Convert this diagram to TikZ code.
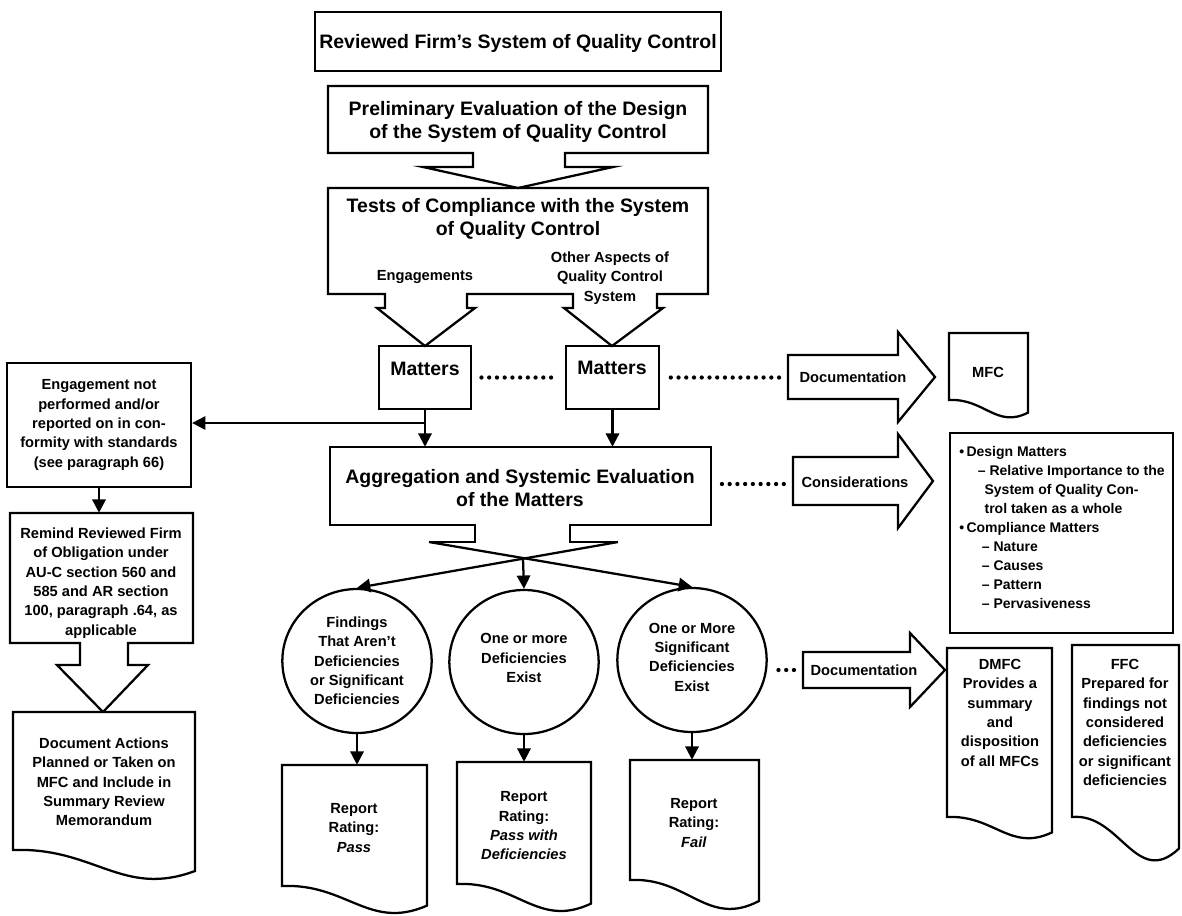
\documentclass[tikz,border=0pt]{standalone}
\usepackage{fontspec}
\setmainfont{Liberation Sans}
\usetikzlibrary{arrows.meta,shapes.geometric,fit}
% document shape: name, L, T, R, B(left bottom), depth
\newcommand{\docpath}[6]{%
  \draw[ln,fill=white] (#2,#3) -- (#4,#3) -- (#4,{#5+0.7*#6})
     .. controls ({#2+0.6*(#4-#2)},{#5+1.6*#6}) and ({#2+0.45*(#4-#2)},{#5-0.1*#6}) .. (#2,#5) -- cycle;
  \node[inner sep=0pt,fit={(#2,#3)(#4,#5)}] (#1) {};
}
\begin{document}
\begin{tikzpicture}[x=0.75pt,y=-0.75pt,
  ln/.style={line width=1.7pt},
  hd/.style={font=\fontsize{14.6}{17}\selectfont\bfseries,align=center,inner sep=0pt},
  sm/.style={font=\fontsize{11}{14.5}\selectfont\bfseries,align=center,inner sep=0pt},
  arr/.style={ln,-{Triangle[length=10pt,width=10pt]}},
  dots/.style={line width=3.2pt,line cap=round,dash pattern=on 0pt off 5.8pt},
  circ/.style={draw,ln,ellipse,minimum width=112pt,minimum height=108pt,inner sep=0pt},
  area/.style={inner sep=0pt}]
\useasboundingbox (0,0) rectangle (1182,915);

% ---- top column
\node[draw,ln,area,fit={(315,12)(721,71)}] (b1) {};
\node[hd] (b1t) at (518,43) {Reviewed Firm's System of Quality Control};

\draw[ln] (328,86) -- (708,86) -- (708,153) -- (565,153) -- (565,167) -- (613,167) -- (518,188)
  -- (423,167) -- (473,167) -- (473,153) -- (328,153) -- cycle;
\node[area,fit={(328,86)(708,153)}] (b2) {};
\node[hd] (b2t) at (518,122) {Preliminary Evaluation of the Design\\of the System of Quality Control};

\draw[ln] (328,188) -- (708,188) -- (708,294) -- (657,294) -- (657,308) -- (663,308) -- (612,346)
  -- (564,308) -- (573,308) -- (573,294) -- (467,294) -- (467,308) -- (475,308) -- (425,346)
  -- (377,308) -- (385,308) -- (385,294) -- (328,294) -- cycle;
\node[area,fit={(328,188)(708,294)}] (b3) {};
\node[hd] (b3t) at (518,219) {Tests of Compliance with the System\\of Quality Control};
\node[sm] (eng) at (425,277) {Engagements};
\node[sm] (oth) at (610,278) {Other Aspects of\\Quality Control\\System};

% ---- matters
\node[draw,ln,area,fit={(379,346)(471,409)}] (m1) {};
\node[hd] (m1t) at (425,369) {Matters};
\node[draw,ln,area,fit={(566,346)(659,409)}] (m2) {};
\node[hd] (m2t) at (612,368) {Matters};
\draw[dots,shorten <=7pt,shorten >=5pt] (m1.east) -- (m2.west);

% ---- top documentation arrow and MFC
\draw[ln,fill=white] (788,355) -- (898,355) -- (898,332) -- (935,377) -- (898,422) -- (898,399) -- (788,399) -- cycle;
\node[area,fit={(788,355)(898,399)}] (doca) {};
\node[sm] (docat) at (853,377) {Documentation};
\draw[dots,shorten <=8pt,shorten >=5pt] (m2.east) -- (m2.east -| doca.west);
\docpath{mfc}{949}{333}{1028}{400}{18}
\node[sm] (mfct) at (988,372) {MFC};

% ---- left column
\node[draw,ln,area,fit={(7,363)(191,487)}] (l1) {};
\node[sm] (l1t) at (99,425) {Engagement not\\performed and/or\\reported on in con-\\formity with standards\\(see paragraph 66)};
\draw[ln] (10,513) -- (193,513) -- (193,643) -- (128,643) -- (128,665) -- (148,665) -- (103,712)
  -- (57,665) -- (80,665) -- (80,643) -- (10,643) -- cycle;
\node[area,fit={(10,513)(193,643)}] (l2) {};
\node[sm] (l2t) at (101,583) {Remind Reviewed Firm\\of Obligation under\\AU-C section 560 and\\585 and AR section\\100, paragraph .64, as\\applicable};
\docpath{l3}{13}{712}{195}{850}{30}
\node[sm] (l3t) at (104,782) {Document Actions\\Planned or Taken on\\MFC and Include in\\Summary Review\\Memorandum};
\draw[arr] (l1.south) -- (l1.south |- l2.north);

% ---- aggregation
\node[area,fit={(330,447)(711,525)}] (agg) {};
\draw[ln] (429,542) -- (475,542) -- (475,525) -- (330,525) -- (330,447) -- (711,447) -- (711,525)
  -- (570,525) -- (570,542) -- (618,542);
\node[hd] (aggt) at (520,488) {Aggregation and Systemic Evaluation\\of the Matters};
\draw[arr] (m1.south) -- (m1.south |- agg.north);
\draw[arr] (m2.south) -- (m2.south |- agg.north);
\coordinate (br) at (425,423);
\draw[arr] (br) -- (br -| l1.east);

% ---- considerations
\draw[ln,fill=white] (793,457) -- (898,457) -- (898,434) -- (933,481) -- (898,528) -- (898,505) -- (793,505) -- cycle;
\node[area,fit={(793,457)(898,505)}] (consa) {};
\node[sm] (consat) at (855,482) {Considerations};
\coordinate (cy) at (0,484);
\draw[dots,shorten <=8pt,shorten >=5pt] (agg.east |- cy) -- (consa.west |- cy);
\node[draw,ln,area,fit={(950,433)(1173,633)}] (cons) {};
\node[sm,align=left,anchor=north west,font=\fontsize{10.5}{14.3}\selectfont\bfseries] (const) at (959,446)
 {\textbullet\,Design Matters\\
  \hspace*{14pt}-- Relative Importance to the\\
  \hspace*{19pt}System of Quality Con-\\
  \hspace*{19pt}trol taken as a whole\\
  \textbullet\,Compliance Matters\\
  \hspace*{17pt}-- Nature\\
  \hspace*{17pt}-- Causes\\
  \hspace*{17pt}-- Pattern\\
  \hspace*{17pt}-- Pervasiveness};

% ---- circles
\node[circ] (c1) at (357,661) {};
\node[sm] (c1t) at (357,661) {Findings\\That Aren't\\Deficiencies\\or Significant\\Deficiencies};
\node[circ] (c2) at (524,662) {};
\node[sm] (c2t) at (524,658) {One or more\\Deficiencies\\Exist};
\node[circ] (c3) at (692,660) {};
\node[sm] (c3t) at (692,657) {One or More\\Significant\\Deficiencies\\Exist};
\draw[arr] (429,542) -- (c3.north);
\draw[arr] (618,542) -- (c1.north);
\draw[arr] (523,559) -- (c2.north);

% ---- report docs
\docpath{d1}{282}{765}{427}{886}{28}
\node[sm] (d1t) at (354,828) {Report\\Rating:\\\textit{Pass}};
\docpath{d2}{457}{762}{591}{884}{28}
\node[sm] (d2t) at (524,826) {Report\\Rating:\\\textit{Pass with}\\\textit{Deficiencies}};
\docpath{d3}{630}{760}{759}{880}{30}
\node[sm] (d3t) at (694,823) {Report\\Rating:\\\textit{Fail}};
\draw[arr] (c1.south) -- (c1.south |- d1.north);
\draw[arr] (c2.south) -- (c2.south |- d2.north);
\draw[arr] (c3.south) -- (c3.south |- d3.north);

% ---- bottom documentation arrow, DMFC, FFC
\draw[ln,fill=white] (803,652) -- (910,652) -- (910,633) -- (945,670) -- (910,707) -- (910,688) -- (803,688) -- cycle;
\node[area,fit={(803,652)(910,688)}] (docb) {};
\node[sm] (docbt) at (864,670) {Documentation};
\draw[dots,shorten <=8pt,shorten >=5pt] (c3.east |- docb.west) -- (docb.west);
\docpath{dmfc}{947}{648}{1052}{817}{22}
\node[sm,anchor=north] (dmfct) at (1000,659) {DMFC\\Provides a\\summary\\and\\disposition\\of all MFCs};
\docpath{ffc}{1072}{645}{1179}{817}{45}
\node[sm,anchor=north] (ffct) at (1125,659) {FFC\\Prepared for\\findings not\\considered\\deficiencies\\or significant\\deficiencies};
\end{tikzpicture}
\end{document}
